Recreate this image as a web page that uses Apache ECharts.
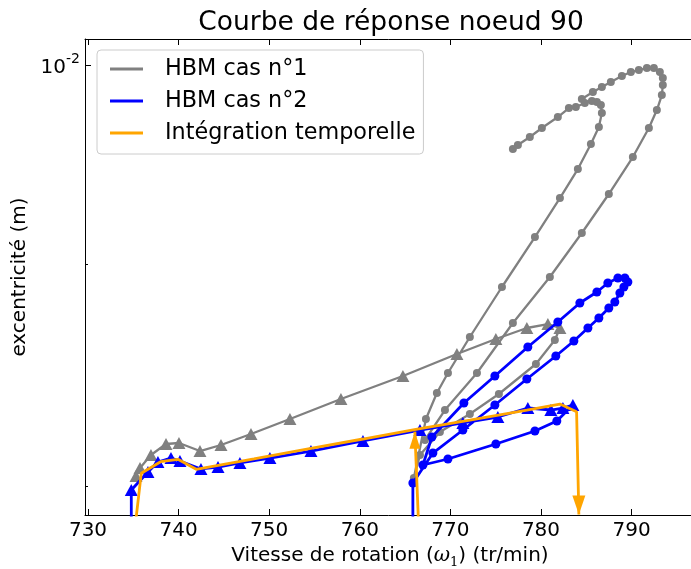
<!DOCTYPE html>
<html><head><meta charset="utf-8">
<script src="https://cdn.jsdelivr.net/npm/echarts@6/dist/echarts.min.js"></script>
<style>html,body{margin:0;padding:0;background:#fff}#c{width:691px;height:569px}</style>
</head><body><div id="c"></div>
<script>
const xTicks = [730, 740, 750, 760, 770, 780, 790];
const yMajorTicks = [0.01];
const yMinorTicks = [0.008, 0.009];

// HBM cas n°1 (gray)
const grayTriSpeed = [735.30,735.74,736.95,738.61,740.04,742.36,744.68,747.99,752.29,757.92,764.76,770.72,775.02,778.44,780.76,782.09];
const grayTriAmp = [0.0080428,0.0080770,0.0081328,0.0081804,0.0081847,0.0081500,0.0081761,0.0082239,0.0082895,0.0083780,0.0084806,0.0085801,0.0086485,0.0086991,0.0087175,0.0086991];
const grayLoopSpeed = [781.53,779.44,775.35,772.15,768.84,766.64,765.97,767.30,768.51,769.73,772.15,775.69,779.33,782.09,784.07,785.51,786.39,786.72,786.61,786.17,785.62,784.84,783.85,783.08,781.86,780.10,778.77,777.45,776.90];
const grayLoopAmp = [0.0086440,0.0085347,0.0084000,0.0083115,0.0082326,0.0081328,0.0080343,0.0082895,0.0084045,0.0084941,0.0086577,0.0088902,0.0091288,0.0093195,0.0094638,0.0095901,0.0096768,0.0097488,0.0097903,0.0098060,0.0098112,0.0098007,0.0097799,0.0097747,0.0097282,0.0096717,0.0096257,0.0095850,0.0095647];
const grayArcSpeed = [784.51,785.73,786.72,787.71,788.93,789.92,790.80,791.69,792.46,793.12,793.45,793.45,793.34,792.79,791.91,790.14,787.49,784.51,780.98,776.90,772.93,769.40,767.19];
const grayArcAmp = [0.0098214,0.0098579,0.0098841,0.0099103,0.0099419,0.0099630,0.0099735,0.0099841,0.0099841,0.0099630,0.0099314,0.0098946,0.0098423,0.0097644,0.0096717,0.0095242,0.0093393,0.0091482,0.0089374,0.0087221,0.0084941,0.0083290,0.0081978];

// HBM cas n°2 (blue)
const blueTriSpeed = [734.78,734.78,736.62,737.72,739.16,740.15,742.47,744.35,746.77,750.08,754.61,760.35,766.64,771.38,775.24,778.55,781.09,782.42,783.52];
const blueTriAmp = [0.0077,0.0079834,0.0080599,0.0081027,0.0081199,0.0081070,0.0080728,0.0080813,0.0080985,0.0081199,0.0081500,0.0081935,0.0082413,0.0082720,0.0082983,0.0083379,0.0083291,0.0083379,0.0083512];
const blueCircSpeed = [781.75,779.33,775.02,769.73,766.97,767.96,771.49,774.91,778.55,781.86,784.29,786.17,787.38,788.49,789.26,789.59,789.15,788.71,788.15,787.49,786.39,785.18,783.63,781.64,778.44,774.91,771.38,768.07,765.86,765.86];
const blueCircAmp = [0.0082807,0.0082369,0.0081804,0.0081156,0.0080899,0.0082108,0.0083600,0.0084806,0.0086120,0.0087268,0.0088151,0.0088666,0.0089091,0.0089327,0.0089327,0.0089138,0.0088902,0.0088619,0.0088198,0.0087918,0.0087454,0.0086991,0.0086394,0.0085710,0.0084671,0.0083512,0.0082413,0.0081414,0.0080131,0.0077];

// Intégration temporelle (orange)
const orangeUpSpeed = [734.80,735.88,738.02,739.93,741.95,748.32,754.61,760.35,766.19,772.15,778.44,782.09,783.93,784.18];
const orangeUpAmp = [0.0077,0.0080543,0.0081040,0.0081143,0.0080715,0.0081164,0.0081615,0.0082021,0.0082443,0.0082851,0.0083291,0.0083556,0.0083217,0.00788];
const orangeJumpSpeed = [766.53,766.08];
const orangeJumpAmp = [0.0078,0.0082340];

const GRAY = '#808080', BLUE = '#0000ff', ORANGE = '#ffa500';
const FONT = 'DejaVu Sans';

function pts(xs, ys, sym, size) {
  return xs.map((x, i) => (sym ? { value: [x, ys[i]], symbol: sym, symbolSize: size } : [x, ys[i]]));
}
function lineSeries(name, color, data, width, z) {
  return {
    type: 'line', name, data, symbol: 'none', showSymbol: true, clip: true,
    lineStyle: { color, width }, itemStyle: { color },
    animation: false, silent: true, z: z, emphasis: { disabled: true }
  };
}
const TRI = [13, 12];
const grayMain = pts(grayTriSpeed, grayTriAmp, 'triangle', TRI).concat(pts(grayLoopSpeed, grayLoopAmp, 'circle', 8));
const grayArc = pts(grayArcSpeed, grayArcAmp, 'circle', 8);
const blueMain = pts(blueTriSpeed, blueTriAmp, 'triangle', TRI).concat(pts(blueCircSpeed, blueCircAmp, 'circle', 9));
const orangeUp = pts(orangeUpSpeed, orangeUpAmp, null);
const lastUp = orangeUp.length - 1;
orangeUp[lastUp] = { value: orangeUp[lastUp], symbol: 'triangle', symbolSize: [13, 19], symbolRotate: 180, symbolOffset: [0, -9.5] };
const orangeJump = pts(orangeJumpSpeed, orangeJumpAmp, null);
orangeJump[1] = { value: orangeJump[1], symbol: 'triangle', symbolSize: [11, 17], symbolOffset: [0, 8.5] };

const chart = echarts.init(document.getElementById('c'), null, { renderer: 'canvas' });
const xCommon = { type: 'value', min: 729.67, max: 797, splitLine: { show: false } };
const yCommon = { type: 'log', logBase: 10, min: 0.0078783, max: 0.010139, splitLine: { show: false } };
chart.setOption({
  backgroundColor: '#fff',
  animation: false,
  title: {
    text: 'Courbe de réponse noeud 90', left: 386, top: 5, textAlign: 'center',
    textStyle: { fontFamily: FONT, fontSize: 26.5, fontWeight: 'normal', color: '#000' }
  },
  grid: { left: 85, top: 39, right: -4, bottom: 54, containLabel: false, outerBoundsMode: 'none' },
  legend: {
    left: 97, top: 50, orient: 'vertical', itemWidth: 33, itemHeight: 3, itemGap: 10,
    padding: [8, 8, 10, 13], backgroundColor: '#fff', borderColor: '#cccccc', borderWidth: 1, borderRadius: 4,
    textStyle: { fontFamily: FONT, fontSize: 22.3, color: '#000', lineHeight: 22, padding: [0, 0, 0, 17] },
    data: [
      { name: 'HBM cas n°1', icon: 'rect' },
      { name: 'HBM cas n°2', icon: 'rect' },
      { name: 'Intégration temporelle', icon: 'rect' }
    ],
    selectedMode: false
  },
  xAxis: [
    Object.assign({}, xCommon, {
      position: 'bottom',
      name: '{t|Vitesse de rotation (}{w|ω}{s|1}{t|) (tr/min)}', nameLocation: 'middle', nameGap: 23,
      nameTextStyle: {
        rich: {
          t: { fontFamily: FONT, fontSize: 20, color: '#000', lineHeight: 26, verticalAlign: 'middle' },
          w: { fontFamily: 'DejaVu Serif', fontStyle: 'italic', fontSize: 20, color: '#000', lineHeight: 26 },
          s: { fontFamily: 'DejaVu Serif', fontSize: 13, color: '#000', lineHeight: 26, verticalAlign: 'bottom' }
        }
      },
      axisLine: { show: true, onZero: false, lineStyle: { color: '#000', width: 1 } },
      axisTick: { show: true, inside: true, length: 6, customValues: xTicks, lineStyle: { color: '#000' } },
      axisLabel: { show: true, customValues: xTicks, margin: 6, fontFamily: FONT, fontSize: 20, color: '#000' }
    }),
    Object.assign({}, xCommon, {
      position: 'top',
      axisLine: { show: true, onZero: false, lineStyle: { color: '#000', width: 1 } },
      axisTick: { show: true, inside: true, length: 6, customValues: xTicks, lineStyle: { color: '#000' } },
      axisLabel: { show: false }
    })
  ],
  yAxis: [
    Object.assign({}, yCommon, {
      position: 'left',
      name: 'excentricité (m)', nameLocation: 'middle', nameGap: 50,
      nameTextStyle: { fontFamily: FONT, fontSize: 20, color: '#000' },
      axisLine: { show: true, onZero: false, lineStyle: { color: '#000', width: 1 } },
      axisTick: { show: true, inside: true, length: 6, customValues: yMajorTicks, lineStyle: { color: '#000' } },
      axisLabel: {
        show: true, customValues: yMajorTicks, margin: 5,
        formatter: function (v) { return '{b|10}{s|-2}'; },
        rich: {
          b: { fontFamily: FONT, fontSize: 20, color: '#000', lineHeight: 26, verticalAlign: 'bottom' },
          s: { fontFamily: FONT, fontSize: 14, color: '#000', lineHeight: 26, verticalAlign: 'top' }
        }
      }
    }),
    Object.assign({}, yCommon, {
      position: 'left',
      axisLine: { show: false },
      axisTick: { show: true, inside: true, length: 3, customValues: yMinorTicks, lineStyle: { color: '#000' } },
      axisLabel: { show: false }
    })
  ],
  series: [
    lineSeries('HBM cas n°1', GRAY, grayMain, 2.3, 2),
    lineSeries('HBM cas n°1', GRAY, grayArc, 2.3, 2),
    lineSeries('HBM cas n°2', BLUE, blueMain, 2.8, 3),
    lineSeries('Intégration temporelle', ORANGE, orangeUp, 2.8, 4),
    lineSeries('Intégration temporelle', ORANGE, orangeJump, 2.8, 4)
  ]
});
</script></body></html>
